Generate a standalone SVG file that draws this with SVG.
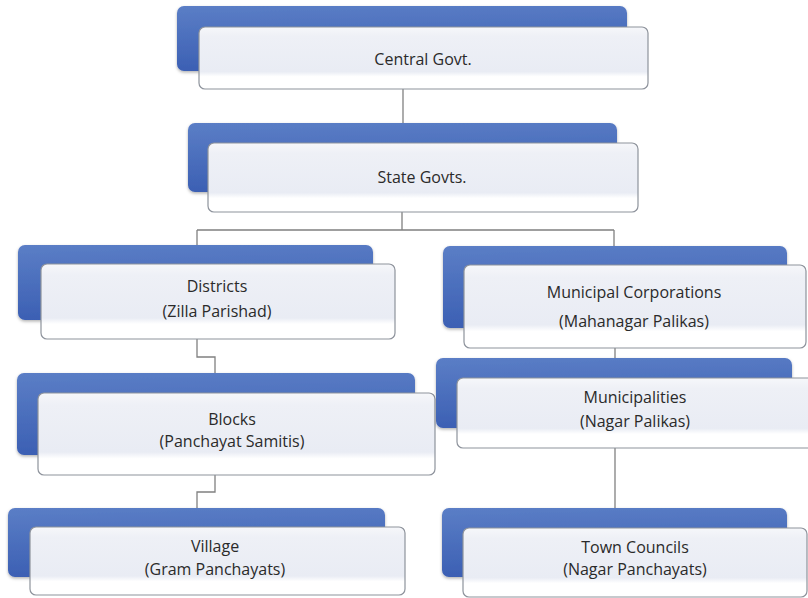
<svg xmlns="http://www.w3.org/2000/svg" width="808" height="598" viewBox="0 0 808 598">
<defs>
<linearGradient id="blue" x1="0" y1="0" x2="0.15" y2="1">
<stop offset="0" stop-color="#5b7ec6"/>
<stop offset="1" stop-color="#3b5fb3"/>
</linearGradient>
<linearGradient id="card" x1="0" y1="0" x2="0" y2="1">
<stop offset="0" stop-color="#f6f7fa"/>
<stop offset="0.15" stop-color="#eef0f6"/>
<stop offset="0.72" stop-color="#e9ecf4"/>
<stop offset="0.8" stop-color="#ffffff"/>
<stop offset="1" stop-color="#ffffff"/>
</linearGradient>
<filter id="sh" x="-5%" y="-10%" width="110%" height="130%">
<feDropShadow dx="0" dy="1.5" stdDeviation="1.5" flood-color="#000" flood-opacity="0.3"/>
</filter>
</defs>
<style>
.back{fill:url(#blue);filter:url(#sh)}
.front{fill:url(#card);stroke:#8e939c;stroke-width:1.2}
.conn{fill:none;stroke:#808080;stroke-width:1.3}
text{font-family:"Open Sans","Liberation Sans",Arial,sans-serif;font-size:16px;fill:#2a2a2a;text-anchor:middle}
</style>
<rect width="808" height="598" fill="#fff"/>
<g id="connectors">
<path class="conn" d="M403 89V123"/>
<path class="conn" d="M402 212V230M197 230H614M197 230V245M614 230V246"/>
<path class="conn" d="M197 339V357H215V373"/>
<path class="conn" d="M215 475V492H197V508"/>
<path class="conn" d="M615 348V358"/>
<path class="conn" d="M615 448V508"/>
</g>
<g id="central">
<rect class="back" x="177" y="6" width="450" height="65" rx="7"/>
<rect class="front" x="199" y="27" width="449" height="62" rx="6"/>
<text x="423" y="65">Central Govt.</text>
</g>
<g id="state">
<rect class="back" x="188" y="123" width="429" height="69" rx="7"/>
<rect class="front" x="208" y="143" width="430" height="69" rx="6"/>
<text x="422" y="183">State Govts.</text>
</g>
<g id="districts">
<rect class="back" x="18" y="245" width="355" height="75" rx="7"/>
<rect class="front" x="41" y="264" width="354" height="75" rx="6"/>
<text x="217" y="292">Districts</text>
<text x="217" y="317">(Zilla Parishad)</text>
</g>
<g id="municipal-corporations">
<rect class="back" x="443" y="246" width="344" height="82" rx="7"/>
<rect class="front" x="464" y="265" width="342" height="83" rx="6"/>
<text x="634" y="298">Municipal Corporations</text>
<text x="634" y="327">(Mahanagar Palikas)</text>
</g>
<g id="blocks">
<rect class="back" x="17" y="373" width="398" height="82" rx="7"/>
<rect class="front" x="38" y="393" width="397" height="82" rx="6"/>
<text x="232" y="425">Blocks</text>
<text x="232" y="447">(Panchayat Samitis)</text>
</g>
<g id="municipalities">
<rect class="back" x="436" y="358" width="356" height="70" rx="7"/>
<rect class="front" x="457" y="378" width="360" height="70" rx="6"/>
<text x="635" y="403">Municipalities</text>
<text x="635" y="427">(Nagar Palikas)</text>
</g>
<g id="village">
<rect class="back" x="8" y="508" width="377" height="69" rx="7"/>
<rect class="front" x="30" y="527" width="375" height="68" rx="6"/>
<text x="215" y="552">Village</text>
<text x="215" y="575">(Gram Panchayats)</text>
</g>
<g id="town-councils">
<rect class="back" x="442" y="508" width="345" height="69" rx="7"/>
<rect class="front" x="463" y="528" width="344" height="69" rx="6"/>
<text x="635" y="553">Town Councils</text>
<text x="635" y="575">(Nagar Panchayats)</text>
</g>
</svg>
